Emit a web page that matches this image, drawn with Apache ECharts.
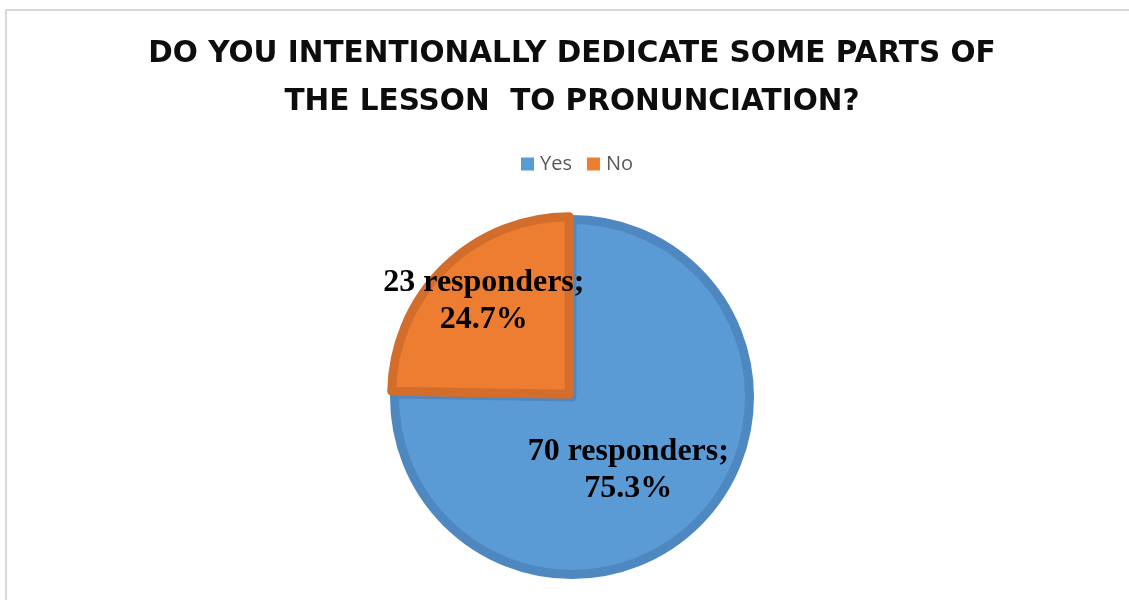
<!DOCTYPE html>
<html><head><meta charset="utf-8">
<script src="https://cdn.jsdelivr.net/npm/echarts@6/dist/echarts.min.js"></script>
<style>html,body{margin:0;padding:0;background:#fff}#c{width:1129px;height:600px}</style>
</head><body><div id="c"></div>
<script>
const titleText = 'DO YOU INTENTIONALLY DEDICATE SOME PARTS OF\nTHE LESSON  TO PRONUNCIATION?';
const categories = ['Yes', 'No'];
const values = [70, 23];
const fills = ['#5b9bd5', '#ed7d31'];
const borders = ['#4f88c1', '#d26d2b'];

const chart = echarts.init(document.getElementById('c'), null, {renderer: 'canvas'});
chart.setOption({
  animation: false,
  backgroundColor: '#fff',
  title: {
    text: titleText,
    left: 572,
    top: 30,
    padding: 0,
    textAlign: 'center',
    textStyle: {fontFamily: 'DejaVu Sans', fontWeight: 'bold', fontSize: 29.5, lineHeight: 48.5, color: '#0d0d0d', align: 'center'}
  },
  legend: {
    data: categories,
    top: 149,
    left: 516,
    itemWidth: 13,
    itemHeight: 13,
    itemGap: 15,
    icon: 'rect',
    itemStyle: {borderWidth: 0},
    textStyle: {fontFamily: 'Open Sans', fontSize: 20, color: '#595959', padding: [0, 0, 0, 1]},
    selectedMode: false
  },
  graphic: [{
    type: 'polyline',
    shape: {points: [[6, 600], [6, 10], [1129, 10]]},
    style: {stroke: '#d9d9d9', lineWidth: 2, fill: null},
    silent: true
  }],
  series: [{
    type: 'pie',
    center: [572, 397],
    radius: 177.5,
    startAngle: 90,
    clockwise: true,
    selectedMode: 'single',
    selectedOffset: 4,
    percentPrecision: 1,
    emphasis: {disabled: true},
    label: {
      show: true,
      position: 'inside',
      formatter: '{c} responders;\n{d}%',
      fontFamily: 'Liberation Serif',
      fontWeight: 'bold',
      fontSize: 32,
      lineHeight: 37,
      color: '#000',
      align: 'center'
    },
    labelLayout: function (p) {
      if (p.dataIndex === 1) return {dx: -21, dy: -27};
      return {dx: -8, dy: 8};
    },
    data: categories.map((c, i) => ({
      name: c,
      value: values[i],
      selected: i === 1,
      itemStyle: {color: fills[i], borderColor: borders[i], borderWidth: 9}
    }))
  }]
});
</script>
</body></html>
